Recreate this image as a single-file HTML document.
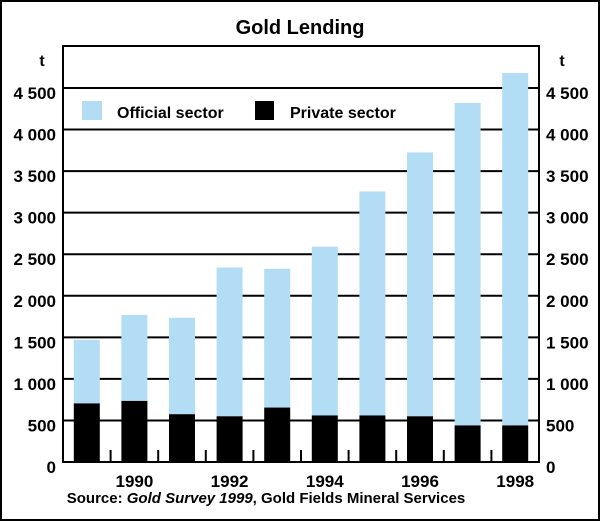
<!DOCTYPE html>
<html><head><meta charset="utf-8"><style>
body{margin:0;background:#fff}
svg{display:block;font-family:"Liberation Sans",Arial,sans-serif;font-weight:bold}
</style></head><body>
<svg width="600" height="521" viewBox="0 0 600 521">
<rect x="1" y="1" width="598" height="519" fill="#fff" stroke="#000" stroke-width="2"/>
<text x="300" y="34" font-size="20" text-anchor="middle">Gold Lending</text>
<g id="grid"></g>
<g id="bars"></g>
<rect x="63" y="46" width="476" height="416" fill="none" stroke="#000" stroke-width="2"/>
<g id="axes"></g>
<text x="42" y="66" font-size="16" text-anchor="middle">t</text>
<text x="562" y="66" font-size="16" text-anchor="middle">t</text>
<g>
<rect x="82" y="101" width="20" height="19" fill="#b3dcf5"/>
<text x="117" y="118" font-size="16">Official sector</text>
<rect x="255" y="101" width="19" height="19" fill="#000"/>
<text x="290" y="118" font-size="16">Private sector</text>
</g>
<text x="266" y="503" font-size="15" text-anchor="middle">Source: <tspan font-style="italic">Gold Survey 1999</tspan>, Gold Fields Mineral Services</text>
</svg>
<script>
const years = [1989,1990,1991,1992,1993,1994,1995,1996,1997,1998];
const privateSector = [705,735,575,550,655,560,560,550,440,440];
const officialSector = [765,1035,1160,1790,1670,2030,2695,3175,3880,4240];
const yTicks = [0,500,1000,1500,2000,2500,3000,3500,4000,4500];
const yTickLabels = ["0","500","1 000","1 500","2 000","2 500","3 000","3 500","4 000","4 500"];
const xLabelYears = [1990,1992,1994,1996,1998];

const NS="http://www.w3.org/2000/svg";
const x0=63,x1=539,yBase=462,yTop=88,yMax=4500;
const slot=(x1-x0)/years.length,bw=26;
const y=v=>yBase-(v/yMax)*(yBase-yTop);
const cx=i=>x0+slot*(i+0.5);
function mk(t,a,p){const e=document.createElementNS(NS,t);for(const k in a)e.setAttribute(k,a[k]);p.appendChild(e);return e;}
const grid=document.getElementById('grid'),bars=document.getElementById('bars'),axes=document.getElementById('axes');
yTicks.forEach((v,i)=>{
  const l=mk('line',{x1:x0,x2:x1,y1:y(v),y2:y(v),stroke:'#000','stroke-width':2},grid);
  
  
  const tl=mk('text',{x:56,y:y(v)+11,'font-size':17,'text-anchor':'end'},axes);
  tl.textContent=yTickLabels[i];
  
  
  const tr=mk('text',{x:546,y:y(v)+11,'font-size':17,'text-anchor':'start'},axes);
  tr.textContent=yTickLabels[i];
  
  
});
years.forEach((yr,i)=>{
  const tot=privateSector[i]+officialSector[i];
  const o=mk('rect',{x:cx(i)-bw/2,y:y(tot),width:bw,height:y(privateSector[i])-y(tot),fill:'#b3dcf5'},bars);
  
  
  const p=mk('rect',{x:cx(i)-bw/2,y:y(privateSector[i]),width:bw,height:yBase-y(privateSector[i]),fill:'#000'},bars);
  
  
  if(i>0){
    const t=mk('line',{x1:x0+slot*i,x2:x0+slot*i,y1:yBase,y2:yBase-12,stroke:'#000','stroke-width':2},axes);
    
    
  }
  if(xLabelYears.includes(yr)){
    const tx=mk('text',{x:cx(i),y:487,'font-size':17,'text-anchor':'middle'},axes);
    tx.textContent=yr;
    
    
  }
});
</script>
</body></html>
